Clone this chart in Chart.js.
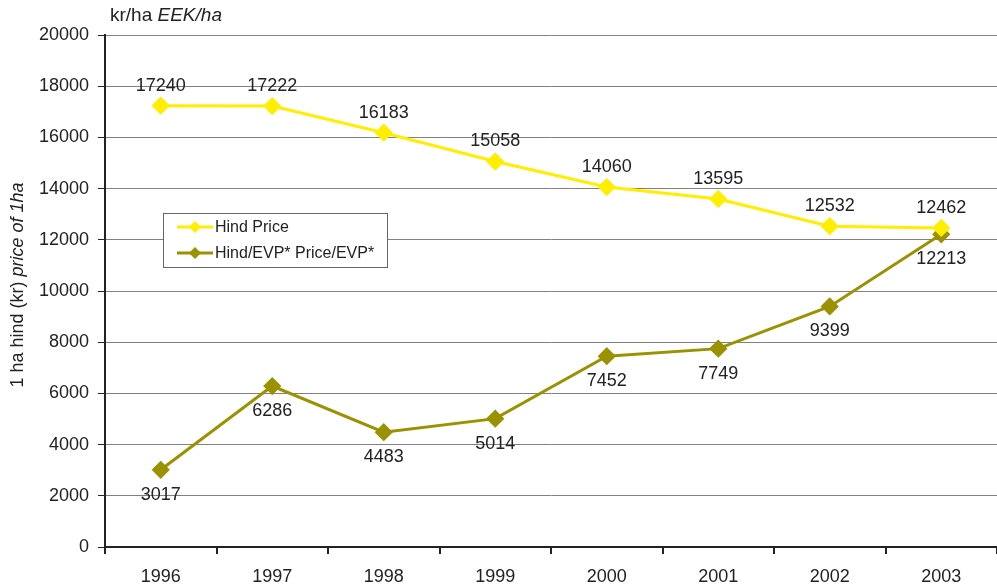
<!DOCTYPE html>
<html><head><meta charset="utf-8">
<script src="https://cdn.jsdelivr.net/npm/chart.js@4"></script>
<style>html,body{margin:0;padding:0;background:#fff}#w{width:997px;height:587px}</style>
</head><body><div id="w"><canvas id="c"></canvas></div>
<script>
const years = ['1996','1997','1998','1999','2000','2001','2002','2003'];
const hindPrice = [17240,17222,16183,15058,14060,13595,12532,12462];
const hindEvp = [3017,6286,4483,5014,7452,7749,9399,12213];
const seriesNames = ['Hind Price','Hind/EVP* Price/EVP*'];
const yTicks = [0,2000,4000,6000,8000,10000,12000,14000,16000,18000,20000];
const YELLOW = '#FFEE00', OLIVE = '#9A9200';
const FONT = '"Liberation Sans", Arial, sans-serif';

const extras = {
  id: 'extras',
  afterDatasetsDraw(chart) {
    const ctx = chart.ctx;
    ctx.save();
    ctx.font = '18px ' + FONT;
    ctx.fillStyle = '#222';
    ctx.textAlign = 'center';
    ctx.textBaseline = 'middle';
    chart.getDatasetMeta(0).data.forEach((p, i) => ctx.fillText(String(hindPrice[i]), p.x, p.y - 20));
    chart.getDatasetMeta(1).data.forEach((p, i) => ctx.fillText(String(hindEvp[i]), p.x, p.y + 25));
    // legend
    const lx = 163, ly = 213, lw = 224, lh = 54;
    ctx.fillStyle = '#fff';
    ctx.fillRect(lx, ly, lw, lh);
    ctx.strokeStyle = '#666'; ctx.lineWidth = 1;
    ctx.strokeRect(lx + 0.5, ly + 0.5, lw, lh);
    const cols = [YELLOW, OLIVE];
    ctx.font = '16px ' + FONT;
    ctx.textAlign = 'left';
    seriesNames.forEach((n, i) => {
      const y = ly + 14 + i * 26;
      ctx.strokeStyle = cols[i]; ctx.lineWidth = 3;
      ctx.beginPath(); ctx.moveTo(177, y); ctx.lineTo(213, y); ctx.stroke();
      ctx.fillStyle = cols[i];
      ctx.beginPath(); ctx.moveTo(195, y - 6); ctx.lineTo(201, y); ctx.lineTo(195, y + 6); ctx.lineTo(189, y); ctx.closePath(); ctx.fill();
      ctx.fillStyle = '#222';
      ctx.fillText(n, 215, y + 1);
    });
    // top unit label
    ctx.font = '19px ' + FONT;
    ctx.textBaseline = 'middle';
    ctx.fillText('kr/ha ', 110, 16);
    let w = ctx.measureText('kr/ha ').width;
    ctx.font = 'italic 19px ' + FONT;
    ctx.fillText('EEK/ha', 110 + w, 16);
    // y title
    ctx.save();
    ctx.translate(18, 285);
    ctx.rotate(-Math.PI / 2);
    const a = '1 ha hind (kr) ', b = 'price of 1ha';
    ctx.font = '18px ' + FONT; const wa = ctx.measureText(a).width;
    ctx.font = 'italic 18px ' + FONT; const wb = ctx.measureText(b).width;
    let x0 = -(wa + wb) / 2;
    ctx.font = '18px ' + FONT; ctx.fillText(a, x0, 0);
    ctx.font = 'italic 18px ' + FONT; ctx.fillText(b, x0 + wa, 0);
    ctx.restore();
    ctx.restore();
  }
};

new Chart(document.getElementById('c'), {
  type: 'line',
  data: {
    labels: years,
    datasets: [
      { label: seriesNames[0], data: hindPrice, borderColor: YELLOW, backgroundColor: YELLOW, borderWidth: 3,
        pointStyle: 'rectRot', pointRadius: 7, pointHoverRadius: 7, tension: 0 },
      { label: seriesNames[1], data: hindEvp, borderColor: OLIVE, backgroundColor: OLIVE, borderWidth: 3,
        pointStyle: 'rectRot', pointRadius: 7, pointHoverRadius: 7, tension: 0 }
    ]
  },
  options: {
    responsive: true, maintainAspectRatio: false, animation: false,
    layout: { autoPadding: false, padding: { top: 35, right: 0, left: 0, bottom: 0 } },
    plugins: { legend: { display: false }, tooltip: { enabled: false } },
    scales: {
      x: {
        offset: true,
        grid: { display: true, drawOnChartArea: false, drawTicks: true, tickLength: 7, color: '#222', lineWidth: 2, offset: true },
        border: { display: true, color: '#222', width: 2 },
        ticks: { color: '#222', font: { size: 18, family: FONT }, padding: 12, maxRotation: 0 },
        afterFit(s) { s.height = 40; }
      },
      y: {
        min: 0, max: 20000,
        afterBuildTicks(s) { s.ticks = yTicks.map(v => ({ value: v })); },
        grid: { color: (c) => c.tick && c.tick.value === 0 ? 'rgba(0,0,0,0)' : '#808080', lineWidth: 1, drawTicks: true, tickLength: 7, tickColor: '#222' },
        border: { display: true, color: '#222', width: 2 },
        ticks: { color: '#222', font: { size: 18, family: FONT }, padding: 9, callback: (v) => String(v) },
        afterFit(s) { s.width = 105; }
      }
    }
  },
  plugins: [extras]
});
</script></body></html>
